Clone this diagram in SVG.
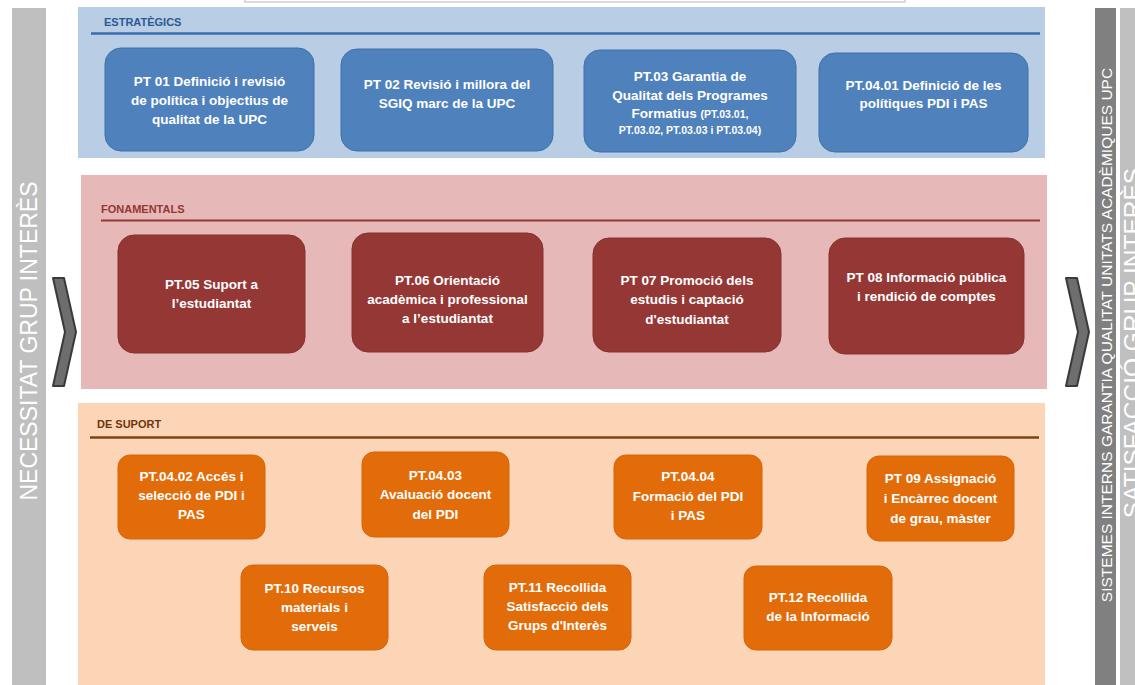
<svg xmlns="http://www.w3.org/2000/svg" width="1135" height="685" viewBox="0 0 1135 685">
<style>
  text { font-family: "Liberation Sans", Arial, sans-serif; }
  .n { font-size: 13.5px; font-weight: bold; fill: #ffffff; text-anchor: middle; }
  .s { font-size: 10.5px; }
  .hdr { font-size: 11px; font-weight: bold; }
  .blue { fill: #4f81bd; stroke: #3f70ab; stroke-width: 1; }
  .red { fill: #953735; stroke: #853030; stroke-width: 1; }
  .orange { fill: #e36c0a; stroke: #d86508; stroke-width: 1; }
  .chev { fill: #6e6e6e; stroke: #3a3a3a; stroke-width: 2; stroke-linejoin: round; }
  .side { fill: #ffffff; font-weight: normal; }
</style>
<rect x="0" y="0" width="1135" height="685" fill="#ffffff"/>
<rect x="245" y="-6" width="660" height="8" fill="#ffffff" stroke="#cfcfcf" stroke-width="1.5"/>

<!-- side bars -->
<g id="left-bar">
  <rect x="12" y="8" width="34" height="680" fill="#bfbfbf"/>
  <text class="side" transform="translate(37,341) rotate(-90)" text-anchor="middle" font-size="23">NECESSITAT  GRUP INTERÈS</text>
</g>
<g id="right-bar-systems">
  <rect x="1095" y="8" width="21" height="680" fill="#808080"/>
  <text class="side" transform="translate(1112,335) rotate(-90)" text-anchor="middle" font-size="15.5">SISTEMES  INTERNS GARANTIA  QUALITAT  UNITATS ACADÈMIQUES  UPC</text>
</g>
<g id="right-bar-satisfaccio">
  <rect x="1120" y="8" width="20" height="680" fill="#c0c0c0"/>
  <text class="side" transform="translate(1141,343) rotate(-90)" text-anchor="middle" font-size="24.5">SATISFACCIÓ GRUP INTERÈS</text>
</g>

<!-- panels -->
<g id="panel-estrategics">
  <rect x="78" y="7" width="967" height="151" fill="#b9cde5"/>
  <text class="hdr" x="104" y="26" fill="#2a5a94">ESTRATÈGICS</text>
  <line x1="91" y1="33.5" x2="1040" y2="33.5" stroke="#3a6db0" stroke-width="2.5"/>
</g>
<g id="panel-fonamentals">
  <rect x="81" y="175" width="966" height="214" fill="#e6b9b8"/>
  <text class="hdr" x="101" y="213" fill="#943634">FONAMENTALS</text>
  <line x1="101" y1="220.5" x2="1040" y2="220.5" stroke="#943634" stroke-width="2"/>
</g>
<g id="panel-suport">
  <rect x="78" y="403" width="967" height="285" fill="#fbd5b5"/>
  <text class="hdr" x="97" y="428" fill="#6f3510">DE SUPORT</text>
  <line x1="90" y1="437.5" x2="1039" y2="437.5" stroke="#7a4515" stroke-width="2.5"/>
</g>

<!-- connectors (flow chevrons) -->
<g id="connectors">
  <polygon class="chev" points="53,278 64,278 76,332 64,386 53,386 65,332"/>
  <polygon class="chev" points="1066,278 1077,278 1089,332 1077,386 1066,386 1078,332"/>
</g>

<!-- Estratègics -->
<g id="pt01">
  <rect class="blue" x="105" y="48" width="209" height="103" rx="16"/>
  <text class="n" x="209.5" y="86">PT 01 Definició i revisió</text>
  <text class="n" x="209.5" y="105">de política i objectius de</text>
  <text class="n" x="209.5" y="124">qualitat de la UPC</text>
</g>
<g id="pt02">
  <rect class="blue" x="341" y="49" width="212" height="102" rx="16"/>
  <text class="n" x="447" y="89">PT 02 Revisió i millora del</text>
  <text class="n" x="447" y="108">SGIQ marc de la UPC</text>
</g>
<g id="pt03">
  <rect class="blue" x="584" y="50" width="212" height="102" rx="16"/>
  <text class="n" x="690" y="81">PT.03 Garantia de</text>
  <text class="n" x="690" y="100">Qualitat dels Programes</text>
  <text class="n" x="690" y="118">Formatius <tspan class="s">(PT.03.01,</tspan></text>
  <text class="n s" x="690" y="134">PT.03.02, PT.03.03 i PT.03.04)</text>
</g>
<g id="pt0401">
  <rect class="blue" x="819" y="53" width="209" height="99" rx="16"/>
  <text class="n" x="923.5" y="90">PT.04.01 Definició de les</text>
  <text class="n" x="923.5" y="108">polítiques PDI i PAS</text>
</g>

<!-- Fonamentals -->
<g id="pt05">
  <rect class="red" x="118" y="235" width="187" height="118" rx="16"/>
  <text class="n" x="211.5" y="289">PT.05 Suport a</text>
  <text class="n" x="211.5" y="308">l’estudiantat</text>
</g>
<g id="pt06">
  <rect class="red" x="352" y="233" width="191" height="119" rx="16"/>
  <text class="n" x="447.5" y="285">PT.06 Orientació</text>
  <text class="n" x="447.5" y="304">acadèmica i professional</text>
  <text class="n" x="447.5" y="323">a l’estudiantat</text>
</g>
<g id="pt07">
  <rect class="red" x="593" y="238" width="188" height="114" rx="16"/>
  <text class="n" x="687" y="285">PT 07 Promoció dels</text>
  <text class="n" x="687" y="304">estudis i captació</text>
  <text class="n" x="687" y="324">d'estudiantat</text>
</g>
<g id="pt08">
  <rect class="red" x="829" y="238" width="195" height="116" rx="16"/>
  <text class="n" x="926.5" y="282">PT 08 Informació pública</text>
  <text class="n" x="926.5" y="301">i rendició de comptes</text>
</g>

<!-- De suport -->
<g id="pt0402">
  <rect class="orange" x="118" y="455" width="147" height="84" rx="12"/>
  <text class="n" x="191.5" y="481">PT.04.02 Accés i</text>
  <text class="n" x="191.5" y="500">selecció de PDI i</text>
  <text class="n" x="191.5" y="519">PAS</text>
</g>
<g id="pt0403">
  <rect class="orange" x="362" y="452" width="147" height="85" rx="12"/>
  <text class="n" x="435.5" y="480">PT.04.03</text>
  <text class="n" x="435.5" y="499">Avaluació docent</text>
  <text class="n" x="435.5" y="519">del PDI</text>
</g>
<g id="pt0404">
  <rect class="orange" x="614" y="455" width="148" height="84" rx="12"/>
  <text class="n" x="688" y="481">PT.04.04</text>
  <text class="n" x="688" y="501">Formació del PDI</text>
  <text class="n" x="688" y="520">i PAS</text>
</g>
<g id="pt09">
  <rect class="orange" x="867" y="456" width="147" height="85" rx="12"/>
  <text class="n" x="940.5" y="483">PT 09 Assignació</text>
  <text class="n" x="940.5" y="503">i Encàrrec docent</text>
  <text class="n" x="940.5" y="523">de grau, màster</text>
</g>
<g id="pt10">
  <rect class="orange" x="241" y="565" width="147" height="85" rx="12"/>
  <text class="n" x="314.5" y="593">PT.10 Recursos</text>
  <text class="n" x="314.5" y="612">materials i</text>
  <text class="n" x="314.5" y="631">serveis</text>
</g>
<g id="pt11">
  <rect class="orange" x="484" y="565" width="147" height="85" rx="12"/>
  <text class="n" x="557.5" y="592">PT.11 Recollida</text>
  <text class="n" x="557.5" y="611">Satisfacció dels</text>
  <text class="n" x="557.5" y="630">Grups d'Interès</text>
</g>
<g id="pt12">
  <rect class="orange" x="744" y="566" width="148" height="84" rx="12"/>
  <text class="n" x="818" y="602">PT.12  Recollida</text>
  <text class="n" x="818" y="621">de la Informació</text>
</g>
</svg>
